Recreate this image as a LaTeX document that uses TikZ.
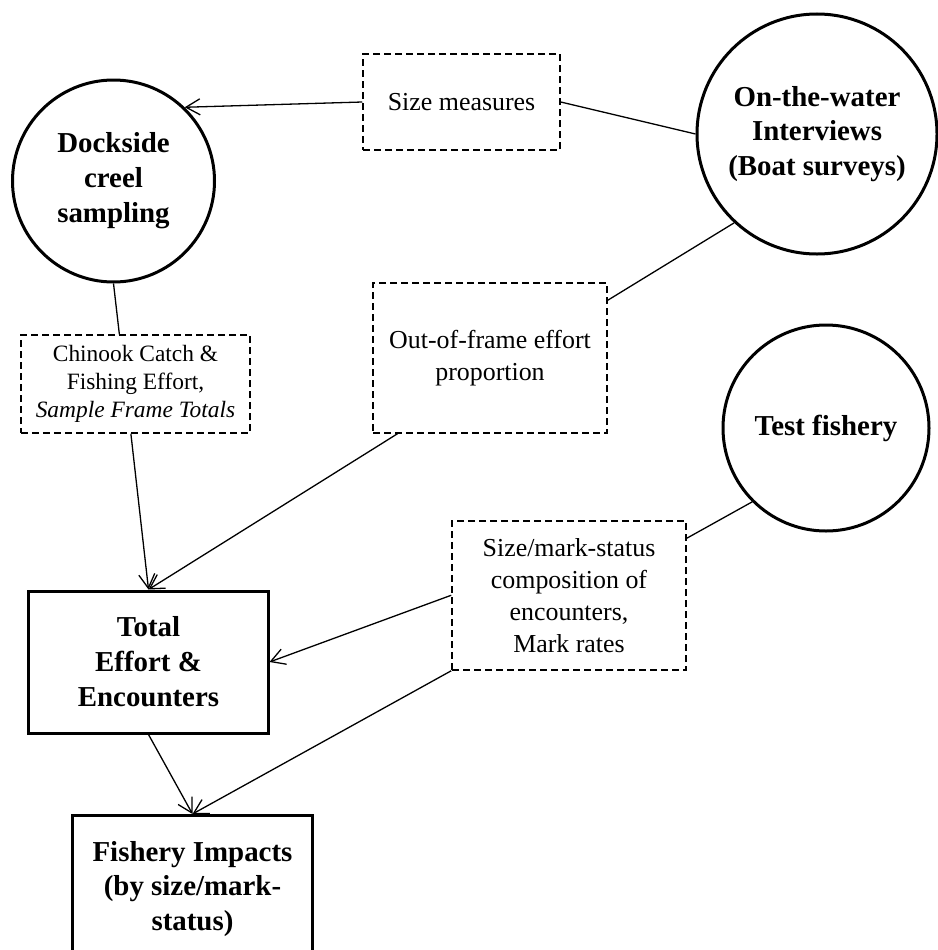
\documentclass[tikz,border=0pt]{standalone}
\usepackage{fontspec}
\setmainfont{Liberation Serif}
\usetikzlibrary{arrows.meta,calc}
\begin{document}
\begin{tikzpicture}[x=1bp,y=-1bp,
  src/.style={circle,draw,line width=3bp,inner sep=0pt,align=center,font=\fontsize{29}{35}\selectfont\bfseries},
  res/.style={rectangle,draw,line width=3bp,inner sep=0pt,align=center,font=\fontsize{29}{35}\selectfont\bfseries},
  dat/.style={rectangle,draw,dash pattern=on 7bp off 4bp,line width=1.5bp,inner sep=0pt,align=center,font=\fontsize{26}{32}\selectfont},
  link/.style={line width=1.3bp},
  arr/.style={link,-{Straight Barb[length=14bp,width=16bp]}}
]
\clip (0,0) rectangle (938,950);
% sources
\node[src,minimum size=202bp] (dock) at (113.5,181) {Dockside\\creel\\sampling};
\node[src,minimum size=240bp] (otw) at (817,134) {On-the-water\\Interviews\\(Boat surveys)};
\node[src,minimum size=206bp] (tf) at (826,428) {Test fishery};
% data boxes
\node[dat,minimum width=197bp,minimum height=96bp] (sm) at (461.5,102) {Size measures};
\node[dat,minimum width=234bp,minimum height=150bp] (oof) at (490,358) {Out-of-frame effort\\proportion};
\node[dat,minimum width=229bp,minimum height=98bp,font=\fontsize{23.5}{28}\selectfont] (cat) at (135.5,384) {Chinook Catch \&\\Fishing Effort,\\\textit{Sample Frame Totals}};
\node[dat,minimum width=234bp,minimum height=149bp] (smk) at (569,595.5) {Size/mark-status\\composition of\\encounters,\\Mark rates};
% results
\node[res,minimum width=239bp,minimum height=142bp] (tot) at (148.5,662) {Total\\Effort \&\\Encounters};
\node[res,minimum width=239bp,minimum height=147bp] (fi) at (192.5,889) {Fishery Impacts\\(by size/mark-\\status)};
% connectors
\draw[arr] (sm.west) -- (dock.46);
\draw[link] (sm.east) -- (otw.west);
\draw[link] (otw.227) -- ([yshift=-18bp]oof.north east);
\draw[link] (dock.south) -- ($(cat.north west)!0.43!(cat.north east)$);
\draw[arr] ($(cat.south west)!0.48!(cat.south east)$) -- (tot.north);
\draw[arr] ($(oof.south west)!0.107!(oof.south east)$) -- (tot.north);
\draw[link] (tf.225) -- ([yshift=-18bp]smk.north east);
\draw[arr] ([yshift=-75bp]smk.north west) -- (tot.east);
\draw[arr] (smk.south west) -- (fi.north);
\draw[arr] (tot.south) -- (fi.north);
\end{tikzpicture}
\end{document}
